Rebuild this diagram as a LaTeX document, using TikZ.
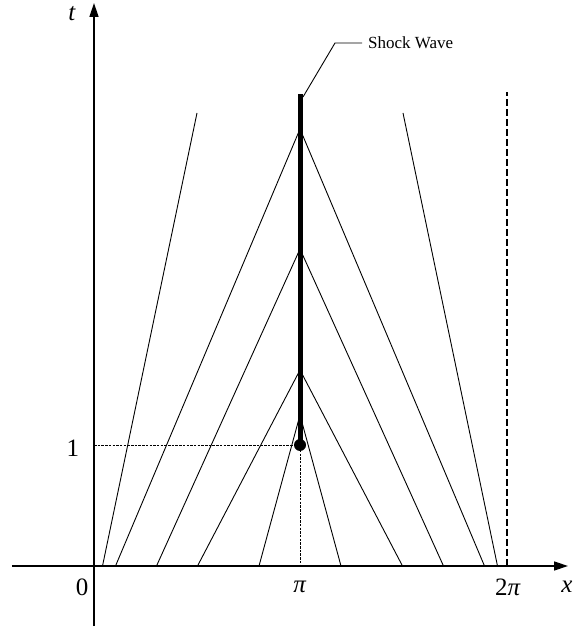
\documentclass[tikz,border=0pt]{standalone}
\usepackage{fontspec}
\setmainfont{Liberation Serif}
\usetikzlibrary{arrows.meta}

\begin{document}
\begin{tikzpicture}[x=1pt, y=1pt, every node/.style={font=\fontsize{25}{30}\selectfont, inner sep=0pt},
  axis/.style={line width=1.4pt, -{Triangle[length=14pt,width=9pt]}},
  charline/.style={line width=0.9pt},
  guide/.style={line width=0.6pt, dash pattern=on 2.5pt off 1.2pt}]
\useasboundingbox (-94,-63) rectangle (480,566);
% axes
\coordinate (xs) at (-82,0);
\coordinate (xe) at (474,0);
\coordinate (ts) at (0,-60);
\coordinate (te) at (0,563);
\draw[axis] (xs) -- (xe);
\draw[axis] (ts) -- (te);
\node (tlab) at (-22,552) {\textit{t}};
\node (xlab) at (473,-21) {\textit{x}};
\node (zero) at (-12,-21) {0};
\node (pi) at (206,-21) {\textit{π}};
\node (twopi) at (414,-21) {2\textit{π}};
\node (one) at (-21,118) {1};
% characteristics meeting at the shock
\foreach \d/\h [count=\i] in {41/151, 102.5/196, 143.5/317, 184.5/437} {
  \coordinate (j\i) at (206,\h);
  \coordinate (l\i) at (206-\d,0);
  \coordinate (r\i) at (206+\d,0);
  \draw[charline] (l\i) -- (j\i) -- (r\i);
}
\coordinate (l5) at (8.5,0);
\coordinate (lt) at (103,453);
\coordinate (r5) at (403.5,0);
\coordinate (rt) at (309,453);
\draw[charline] (l5) -- (lt);
\draw[charline] (r5) -- (rt);
% x = 2 pi
\coordinate (pb) at (413,0);
\coordinate (pt) at (413,474);
\draw[line width=1.3pt, dash pattern=on 7pt off 3pt] (pb) -- (pt);
% shock
\node[circle, fill, minimum size=12pt] (dot) at (206,121) {};
\coordinate (pia) at (206,0);
\coordinate (onea) at (0,121);
\draw[guide] (onea) -- (dot.center) -- (pia);
\coordinate (top) at (206,472);
\draw[line width=5pt] (dot.center) -- (top);
\node[font=\fontsize{17}{20}\selectfont, anchor=west] (sw) at (274,523) {Shock Wave};
\coordinate (lead) at (209,469);
\coordinate (kink) at (241,523);
\draw[charline] (lead) -- (kink) -- ([xshift=-6pt]sw.west);
\end{tikzpicture}
\end{document}
